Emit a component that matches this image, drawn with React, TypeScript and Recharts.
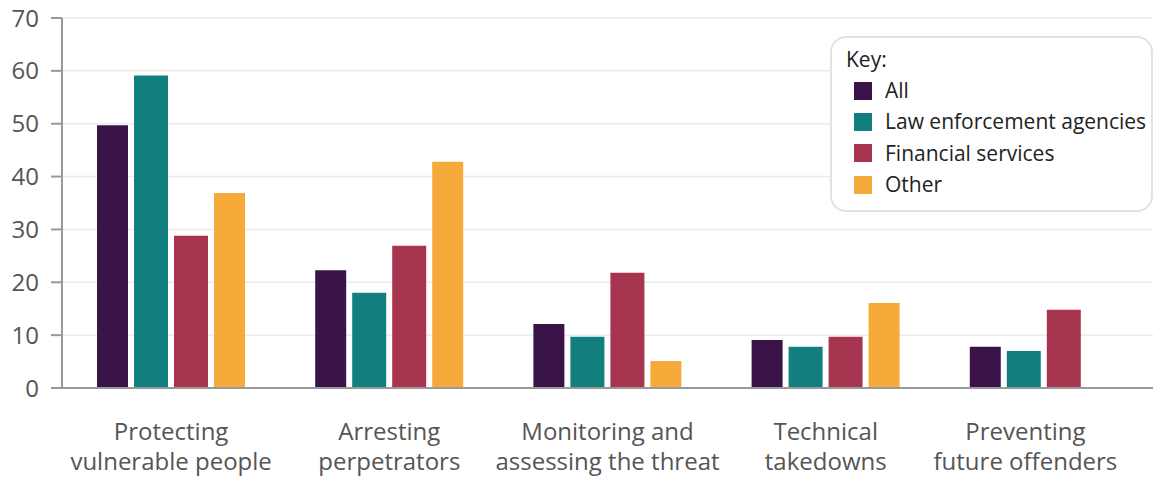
import React from 'react';
import { BarChart, Bar, XAxis, YAxis, CartesianGrid, Legend } from 'recharts';

const categories = [
  'Protecting\nvulnerable people',
  'Arresting\nperpetrators',
  'Monitoring and\nassessing the threat',
  'Technical\ntakedowns',
  'Preventing\nfuture offenders',
];
const allValues = [49.7, 22.3, 12.1, 9.1, 7.8];
const lawValues = [59.1, 18.0, 9.7, 7.8, 7.0];
const financialValues = [28.8, 26.9, 21.8, 9.7, 14.8];
const otherValues: (number | null)[] = [36.9, 42.8, 5.1, 16.1, null];
const yTicks = [0, 10, 20, 30, 40, 50, 60, 70];

const BAR_GAP = 6;
const seriesDefs = [
  { key: 'all', name: 'All', color: '#3a1449', size: 31 },
  { key: 'law', name: 'Law enforcement agencies', color: '#127f7f', size: 34 },
  { key: 'financial', name: 'Financial services', color: '#a8354f', size: 34 },
  { key: 'other', name: 'Other', color: '#f6aa3a', size: 31 },
];

const data = categories.map((c, i) => ({
  category: c,
  all: allValues[i],
  law: lawValues[i],
  financial: financialValues[i],
  other: otherValues[i],
}));

const FONT = '"Open Sans", sans-serif';

const XTick = (props: any) => {
  const { x, y, payload, index } = props;
  const lines = String(payload.value).split('\n');
  // centre the label under the bars that are present in the group
  const lastDef = seriesDefs[seriesDefs.length - 1];
  const missingLast = otherValues[index] == null;
  const shift = missingLast ? -(lastDef.size + BAR_GAP) / 2 : 0;
  return (
    <g transform={`translate(${x + shift},${y})`}>
      {lines.map((l, i) => (
        <text
          key={i}
          x={0}
          y={43.5 + i * 30.5}
          textAnchor="middle"
          fill="#555"
          fontSize={24}
          fontFamily={FONT}
        >
          {l}
        </text>
      ))}
    </g>
  );
};

const KeyLegend = () => (
  <div
    style={{
      boxSizing: 'border-box',
      width: 323,
      height: 176,
      border: '2px solid #e2e2e2',
      borderRadius: 16,
      background: '#fff',
      fontFamily: FONT,
      color: '#222',
      fontSize: 21,
      padding: '6px 0 0 14px',
      lineHeight: '31px',
    }}
  >
    <div style={{ height: 31 }}>Key:</div>
    {seriesDefs.map((s) => (
      <div key={s.key} style={{ display: 'flex', alignItems: 'center', height: 31.3 }}>
        <span
          style={{
            display: 'inline-block',
            width: 18,
            height: 18,
            background: s.color,
            marginLeft: 8,
            marginRight: 13,
            flexShrink: 0,
          }}
        />
        <span style={{ whiteSpace: 'nowrap' }}>{s.name}</span>
      </div>
    ))}
  </div>
);

export default function App() {
  return (
    <div style={{ position: 'absolute', left: 0, top: 0 }}>
      <BarChart
        width={1157}
        height={479}
        data={data}
        margin={{ top: 18, right: 4, left: 0, bottom: 0 }}
        barGap={BAR_GAP}
        barCategoryGap={0}
      >
        <CartesianGrid vertical={false} stroke="#ebebeb" strokeWidth={1.5} />
        <XAxis
          dataKey="category"
          height={91}
          tickLine={false}
          axisLine={{ stroke: '#999', strokeWidth: 2 }}
          tick={<XTick />}
          interval={0}
        />
        <YAxis
          width={62}
          domain={[0, 70]}
          ticks={yTicks}
          tickSize={11}
          tickMargin={12}
          axisLine={{ stroke: '#999', strokeWidth: 2 }}
          tickLine={{ stroke: '#999', strokeWidth: 2 }}
          tick={{ fill: '#555', fontSize: 24, fontFamily: FONT }}
          interval={0}
        />
        <Legend
          layout="horizontal"
          verticalAlign="middle"
          align="center"
          content={<KeyLegend />}
          wrapperStyle={{ position: 'absolute', left: 830, top: 36, width: 323, height: 176 }}
        />
        {seriesDefs.map((s) => (
          <Bar
            key={s.key}
            dataKey={s.key}
            name={s.name}
            fill={s.color}
            barSize={s.size}
            isAnimationActive={false}
          />
        ))}
      </BarChart>
    </div>
  );
}
